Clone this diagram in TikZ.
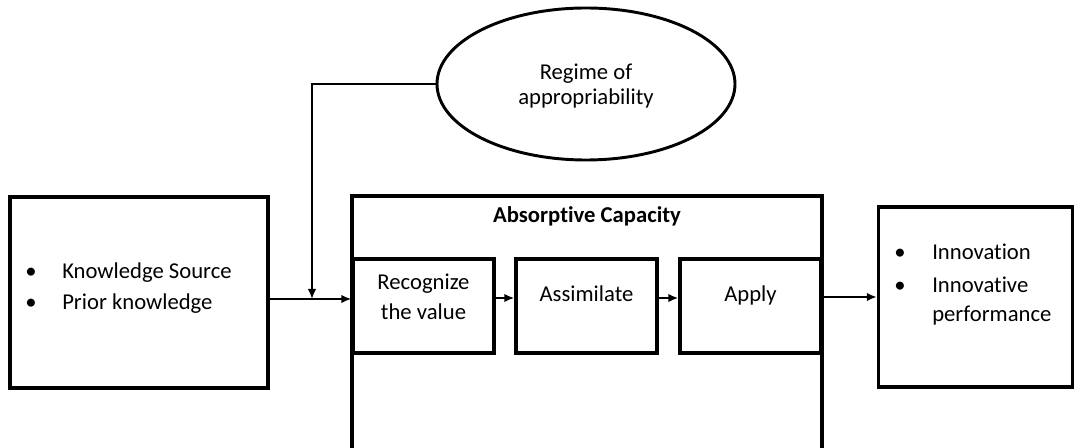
\documentclass[tikz,border=0pt]{standalone}
\usepackage{fontspec}
\setmainfont[Ligatures=NoCommon]{Carlito}
\usetikzlibrary{arrows.meta,shapes.geometric}
\begin{document}
\begin{tikzpicture}[x=0.75pt,y=-0.75pt,
  box/.style={draw,line width=2.6pt,inner sep=0pt},
  conn/.style={line width=1.6pt},
  arr/.style={conn,-{Latex[length=7.5pt,width=6.5pt]}},
  txt/.style={inner sep=0pt,font=\fontsize{17}{22}\selectfont,anchor=base},
  btxt/.style={txt,anchor=base west}]
\useasboundingbox (0,0) rectangle (1075,448);
\clip (0,0) rectangle (1075,448);
% boxes
\node[box,minimum width=193.5pt,minimum height=143.25pt] (lb) at (139,292.5) {};
\node[box,minimum width=352.5pt,minimum height=198pt] (ac) at (587,328) {};
\node[box,minimum width=105.75pt,minimum height=70.5pt] (rec) at (423.5,306) {};
\node[box,minimum width=105.75pt,minimum height=70.5pt] (asm) at (586.5,306) {};
\node[box,minimum width=105.75pt,minimum height=70.5pt] (apl) at (750.5,306) {};
\node[box,minimum width=145.5pt,minimum height=135pt] (rb) at (975.5,297) {};
\node[draw,ellipse,line width=2.2pt,minimum width=223.5pt,minimum height=114pt,inner sep=0pt] (reg) at (586,84) {};
% texts
\node[txt] (regt1) at (586,80) {Regime of};
\node[txt] (regt2) at (586,105) {appropriability};
\node[txt,font=\fontsize{17}{22}\selectfont\bfseries] (act) at (587,223) {Absorptive Capacity};
\node[txt] (rect1) at (423.5,290) {Recognize};
\node[txt] (rect2) at (423.5,320) {the value};
\node[txt] (asmt) at (586.5,302) {Assimilate};
\node[txt] (aplt) at (750.5,302) {Apply};
\node[txt] (b1) at (31,279) {\textbullet};
\node[txt] (b2) at (31,310) {\textbullet};
\node[btxt] (k1) at (62,279) {Knowledge Source};
\node[btxt] (k2) at (62,310) {Prior knowledge};
\node[txt] (b3) at (900,260) {\textbullet};
\node[txt] (b4) at (900,293) {\textbullet};
\node[btxt] (i1) at (932,260) {Innovation};
\node[btxt] (i2) at (932,293) {Innovative};
\node[btxt] (i3) at (932,322) {performance};
% connectors
\coordinate (j) at (312,299);
\draw[arr] (lb.east |- j) -- (rec.west |- j);
\draw[arr] (reg.west) -- (reg.west -| j) -- (j);
\draw[arr] (rec.east |- 0,298) -- (asm.west |- 0,298);
\draw[arr] (asm.east |- 0,298) -- (apl.west |- 0,298);
\draw[arr] (ac.east |- 0,297) -- (rb.west |- 0,297);
\end{tikzpicture}
\end{document}
